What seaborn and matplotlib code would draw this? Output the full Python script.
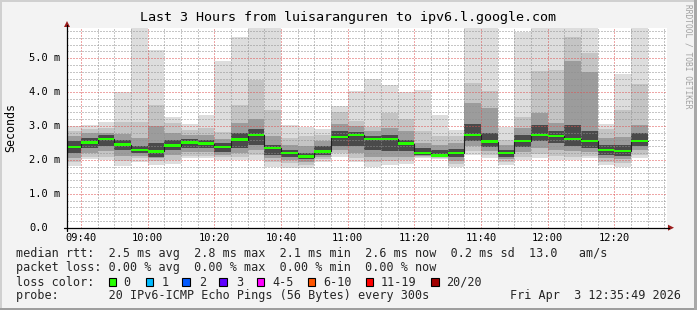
import matplotlib
matplotlib.use("Agg")
import matplotlib.pyplot as plt
import matplotlib.transforms as mtransforms
from matplotlib.lines import Line2D
from matplotlib.patches import Rectangle, Polygon
import numpy as np
import pandas as pd
import seaborn as sns

W, H = 697, 310

# ---------------- data ----------------
window_start = "09:35:49"
window_end = "12:35:49"
bar_end = ["09:40", "09:45", "09:50", "09:55", "10:00", "10:05", "10:10", "10:15",
           "10:20", "10:25", "10:30", "10:35", "10:40", "10:45", "10:50", "10:55",
           "11:00", "11:05", "11:10", "11:15", "11:20", "11:25", "11:30", "11:35",
           "11:40", "11:45", "11:50", "11:55", "12:00", "12:05", "12:10", "12:15",
           "12:20", "12:25", "12:30"]

# median rtt (ms)
med = [2.38, 2.51, 2.61, 2.45, 2.30, 2.25, 2.42, 2.51, 2.48, 2.38, 2.60, 2.74,
       2.36, 2.21, 2.10, 2.25, 2.68, 2.73, 2.62, 2.62, 2.48, 2.21, 2.13, 2.21,
       2.74, 2.54, 2.21, 2.56, 2.74, 2.71, 2.62, 2.56, 2.30, 2.27, 2.56]
# smoke band edges (ms), outermost to innermost
lo = [1.82, 2.03, 2.00, 1.82, 1.95, 1.85, 1.87, 2.05, 2.07, 2.00, 2.00, 2.00,
      1.80, 1.77, 1.75, 1.95, 2.10, 1.95, 1.80, 1.85, 1.87, 2.05, 2.02, 1.80,
      2.15, 2.07, 1.85, 2.00, 2.07, 2.00, 2.00, 2.05, 1.85, 1.80, 2.05]
hi = [2.99, 3.04, 3.13, 3.99, 5.88, 5.23, 3.28, 3.07, 3.33, 4.91, 5.62, 6.20,
      6.20, 3.04, 2.96, 2.91, 3.58, 4.04, 4.40, 4.20, 3.99, 4.07, 3.33, 2.89,
      6.20, 6.20, 2.98, 5.78, 6.20, 6.20, 6.20, 6.20, 3.05, 4.53, 6.20]
lo2 = [1.95, 2.10, 2.10, 1.98, 2.05, 1.98, 2.00, 2.12, 2.12, 2.08, 2.08, 2.15,
       1.95, 1.92, 1.85, 2.02, 2.20, 2.05, 1.95, 1.98, 2.00, 2.08, 2.05, 1.88,
       2.25, 2.15, 1.95, 2.10, 2.18, 2.12, 2.10, 2.12, 1.95, 1.92, 2.15]
hi2 = [2.85, 2.90, 2.95, 3.13, 3.13, 3.63, 3.10, 2.88, 2.95, 2.82, 3.63, 4.37,
       3.48, 2.65, 2.70, 2.72, 3.40, 3.15, 2.96, 3.38, 3.20, 2.84, 2.70, 2.70,
       4.27, 4.02, 2.60, 3.28, 4.63, 4.66, 5.62, 5.16, 2.90, 3.48, 4.24]
lo3 = [2.05, 2.20, 2.25, 2.12, 2.12, 2.06, 2.15, 2.22, 2.22, 2.15, 2.20, 2.30,
       2.05, 2.00, 1.95, 2.08, 2.30, 2.20, 2.10, 2.10, 2.10, 2.12, 2.08, 1.98,
       2.40, 2.25, 2.03, 2.22, 2.35, 2.30, 2.25, 2.22, 2.05, 2.02, 2.28]
hi3 = [2.70, 2.78, 2.80, 2.75, 2.65, 3.00, 2.80, 2.72, 2.72, 2.62, 3.10, 3.20,
       2.70, 2.45, 2.40, 2.55, 3.05, 3.00, 2.85, 2.95, 2.84, 2.50, 2.45, 2.50,
       3.68, 3.53, 2.45, 2.95, 3.38, 3.08, 4.93, 4.58, 2.65, 2.69, 3.04]
lo4 = [2.20, 2.35, 2.42, 2.30, 2.20, 2.08, 2.30, 2.35, 2.35, 2.22, 2.35, 2.45,
       2.15, 2.08, 2.02, 2.15, 2.42, 2.40, 2.30, 2.25, 2.25, 2.15, 2.10, 2.08,
       2.55, 2.38, 2.10, 2.38, 2.55, 2.50, 2.40, 2.35, 2.15, 2.12, 2.40]
hi4 = [2.55, 2.65, 2.72, 2.58, 2.42, 2.50, 2.60, 2.62, 2.60, 2.50, 2.80, 2.90,
       2.45, 2.30, 2.20, 2.40, 2.85, 2.82, 2.70, 2.72, 2.60, 2.35, 2.28, 2.32,
       3.05, 2.80, 2.30, 2.74, 3.04, 2.85, 3.04, 2.84, 2.45, 2.45, 2.80]

xtick_labels = ["09:40", "10:00", "10:20", "10:40", "11:00", "11:20", "11:40", "12:00", "12:20"]
ytick_values = [0, 1, 2, 3, 4, 5]
ytick_labels = ["0.0", "1.0 m", "2.0 m", "3.0 m", "4.0 m", "5.0 m"]
y_max = 5.9

title = "Last 3 Hours from luisaranguren to ipv6.l.google.com"
line_rtt = "median rtt:  2.5 ms avg  2.8 ms max  2.1 ms min  2.6 ms now  0.2 ms sd  13.0   am/s"
line_loss = "packet loss: 0.00 % avg  0.00 % max  0.00 % min  0.00 % now"
line_color = "loss color:"
line_probe = "probe:       20 IPv6-ICMP Echo Pings (56 Bytes) every 300s"
date_text = "Fri Apr  3 12:35:49 2026"
side_text = "RRDTOOL / TOBI OETIKER"
loss_labels = ["0", "1", "2", "3", "4-5", "6-10", "11-19", "20/20"]
loss_colors = ["#26FF00", "#00BBFF", "#0059FF", "#5E00FF", "#FF00FF", "#FF5500", "#FF0000", "#A10000"]
median_color = loss_colors[0]


def tmin(s):
    p = [int(v) for v in s.split(":")]
    m = (p[0] - 9) * 60 + p[1]
    if len(p) > 2:
        m += p[2] / 60.0
    return m


def px(x):
    return x / W


def py(y):
    return 1 - y / H


# ---------------- figure ----------------
sns.set_theme(style="white")
plt.rcParams["font.family"] = ["DejaVu Sans Mono", "DejaVu Sans"]

fig = plt.figure(figsize=(W / 100, H / 100), dpi=100, facecolor="#F3F3F3")

# 3D frame
fig.patches.append(Rectangle((0, 0), 1, 2 / H, transform=fig.transFigure, color="#9E9E9E", lw=0))
fig.patches.append(Rectangle((1 - 3 / W, 0), 3 / W, 1, transform=fig.transFigure, color="#A8A8A8", lw=0))
fig.patches.append(Rectangle((0, 1 - 2 / H), 1 - 3 / W, 2 / H, transform=fig.transFigure, color="#D0D0D0", lw=0))
fig.patches.append(Rectangle((0, 2 / H), 2 / W, 1, transform=fig.transFigure, color="#D0D0D0", lw=0))

ax = fig.add_axes([px(67), py(227.7), 600 / W, 200 / H])
ax.set_facecolor("white")

t0, t1 = tmin(window_start), tmin(window_end)
ends = [tmin(e) for e in bar_end]
starts = [max(e - 5, t0) for e in ends]
xs = np.array(starts + [ends[-1]])


def ext(a):
    return np.array(list(a) + [a[-1]])


bands = [(lo, hi, "#DDDDDD"), (lo2, hi2, "#C4C4C4"), (lo3, hi3, "#9C9C9C"), (lo4, hi4, "#4A4A4A")]
for l, h, c in bands:
    ax.fill_between(xs, ext(l), ext(h), step="post", color=c, lw=0, zorder=1)

df = pd.DataFrame({"t": xs, "median": ext(med)})
sns.lineplot(data=df, x="t", y="median", drawstyle="steps-post", color="#202020",
             lw=0.8, ax=ax, legend=False, estimator=None, sort=False, zorder=3)
ax.fill_between(xs, ext(med) - 0.035, ext(med) + 0.035, step="post",
                color=median_color, lw=0, zorder=4)

ax.set_xlim(t0, t1)
ax.set_ylim(0, y_max)
ax.set_xticks([tmin(l) for l in xtick_labels])
ax.set_xticklabels(xtick_labels)
ax.set_xticks([tmin(e) for e in bar_end] + [tmin("12:35")], minor=True)
ax.set_yticks(ytick_values)
ax.set_yticklabels([])
ax.set_yticks([v / 5 for v in range(0, 30)], minor=True)
ax.set_axisbelow(False)
ax.grid(which="major", color=(0.87, 0.31, 0.31, 0.55), linestyle=(0, (1, 2)), lw=0.72)
ax.grid(which="minor", color=(0.56, 0.56, 0.56, 0.42), linestyle=(0, (1, 2)), lw=0.72)
ax.tick_params(axis="both", which="both", length=0)
ax.tick_params(axis="x", labelsize=7.5, pad=4, labelcolor="black")
ax.set_xlabel("")
ax.set_ylabel("")
for s in ax.spines.values():
    s.set_visible(False)

trans = mtransforms.blended_transform_factory(fig.transFigure, ax.transData)
for v, l in zip(ytick_values, ytick_labels):
    fig.text(px(29), v, l, transform=trans, ha="left", va="center", fontsize=7.5, color="black")

# axes lines and arrows
fig.add_artist(Line2D([px(64), px(669)], [py(227.7), py(227.7)], transform=fig.transFigure, color="black", lw=0.9))
fig.add_artist(Line2D([px(67), px(67)], [py(231), py(25)], transform=fig.transFigure, color="black", lw=0.9))
fig.add_artist(Polygon([(px(668), py(224.7)), (px(674), py(227.7)), (px(668), py(230.7))],
                       closed=True, transform=fig.transFigure, color="#9B1C1C", lw=0))
fig.add_artist(Polygon([(px(64), py(27)), (px(67), py(21)), (px(70), py(27))],
                       closed=True, transform=fig.transFigure, color="#9B1C1C", lw=0))

# texts
fig.text(px(348), py(18), title, ha="center", va="center", fontsize=9.6, color="black")
fig.text(px(11), py(127), "Seconds", rotation=90, ha="center", va="center", fontsize=8.4, color="black")
fig.text(px(688), py(4), side_text, rotation=270, ha="center", va="top", fontsize=5.7, color="#A0A0A0")

fs = 8.5
fig.text(px(16), py(254), line_rtt, ha="left", va="center", fontsize=fs)
fig.text(px(16), py(268), line_loss, ha="left", va="center", fontsize=fs)
fig.text(px(16), py(282), line_color, ha="left", va="center", fontsize=fs)
fig.text(px(16), py(296), line_probe, ha="left", va="center", fontsize=fs)
fig.text(px(681), py(296), date_text, ha="right", va="center", fontsize=fs)

box_x = [108.7, 145.7, 182.3, 219.3, 256.7, 307.7, 365.7, 431.0]
txt_x = [123.0, 161.7, 198.7, 235.7, 272.7, 323.3, 380.7, 445.7]
for bx, tx, lab, col in zip(box_x, txt_x, loss_labels, loss_colors):
    fig.patches.append(Rectangle((px(bx), py(286)), 7.5 / W, 8 / H, transform=fig.transFigure,
                                 facecolor=col, edgecolor="black", lw=0.8))
    fig.text(px(tx), py(282), lab, ha="left", va="center", fontsize=fs)

fig.savefig("out.png", dpi=100, facecolor=fig.get_facecolor())
